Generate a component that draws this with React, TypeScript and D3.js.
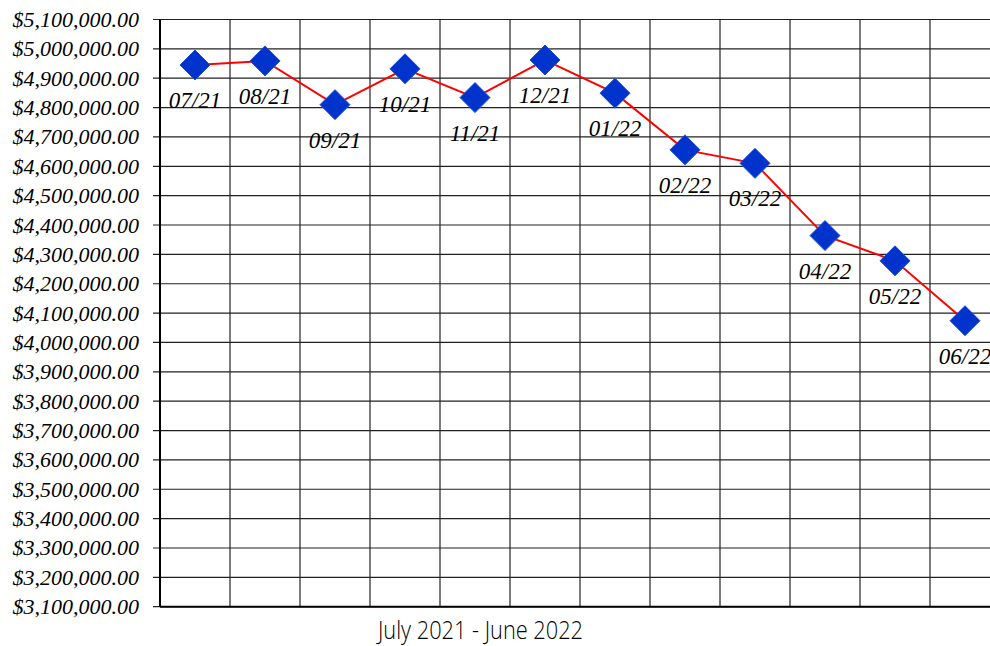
import React, { useEffect, useRef } from 'react';
import * as d3 from 'd3';

const months: string[] = ['07/21', '08/21', '09/21', '10/21', '11/21', '12/21', '01/22', '02/22', '03/22', '04/22', '05/22', '06/22'];
const values: number[] = [4945000, 4959000, 4810000, 4932000, 4834000, 4962000, 4849000, 4656000, 4610000, 4364000, 4278000, 4074000];
const yTicks: number[] = d3.range(3100000, 5100001, 100000);
const axisTitle = 'July 2021 - June 2022';

const width = 990;
const height = 646;
const margin = { top: 19.5, right: -10, bottom: 39.3, left: 160 };

export default function App() {
  const ref = useRef<SVGSVGElement>(null);

  useEffect(() => {
    draw();
  }, []);

  function draw() {
    const svg = d3.select(ref.current);
    svg.selectAll('*').remove();

    const x = d3.scaleBand<string>()
      .domain(months)
      .range([margin.left, width - margin.right]);

    const y = d3.scaleLinear()
      .domain([3100000, 5100000])
      .range([height - margin.bottom, margin.top]);

    const fmt = (d: number) => '$' + d3.format(',.2f')(d);

    // horizontal grid
    svg.append('g')
      .selectAll('line')
      .data(yTicks)
      .enter()
      .append('line')
      .attr('x1', margin.left - 7)
      .attr('x2', width)
      .attr('y1', (d) => y(d))
      .attr('y2', (d) => y(d))
      .attr('stroke', '#222')
      .attr('stroke-width', 1.2);

    // vertical grid
    svg.append('g')
      .selectAll('line')
      .data(months.slice(1))
      .enter()
      .append('line')
      .attr('x1', (d) => x(d)!)
      .attr('x2', (d) => x(d)!)
      .attr('y1', y(5100000))
      .attr('y2', y(3100000))
      .attr('stroke', '#222')
      .attr('stroke-width', 1.2);

    // axes lines
    svg.append('line')
      .attr('x1', margin.left)
      .attr('x2', margin.left)
      .attr('y1', y(5100000))
      .attr('y2', y(3100000))
      .attr('stroke', '#000')
      .attr('stroke-width', 2);
    svg.append('line')
      .attr('x1', margin.left)
      .attr('x2', width)
      .attr('y1', y(3100000))
      .attr('y2', y(3100000))
      .attr('stroke', '#000')
      .attr('stroke-width', 2);

    // y labels
    svg.append('g')
      .selectAll('text')
      .data(yTicks)
      .enter()
      .append('text')
      .attr('x', 139)
      .attr('y', (d) => y(d) + 7.5)
      .attr('text-anchor', 'end')
      .style('font-family', '"Liberation Serif", "Times New Roman", serif')
      .style('font-style', 'italic')
      .style('font-size', '22px')
      .attr('fill', '#000')
      .text((d) => fmt(d));

    const cx = (i: number) => x(months[i])! + x.bandwidth() / 2;

    // line
    const line = d3.line<number>()
      .x((d, i) => cx(i))
      .y((d) => y(d));

    svg.append('path')
      .datum(values)
      .attr('d', line)
      .attr('fill', 'none')
      .attr('stroke', '#ff0000')
      .attr('stroke-width', 2);

    // markers
    const r = 15;
    svg.append('g')
      .selectAll('path')
      .data(values)
      .enter()
      .append('path')
      .attr('d', (d, i) => {
        const px = cx(i);
        const py = y(d);
        return `M${px},${py - r}L${px + r},${py}L${px},${py + r}L${px - r},${py}Z`;
      })
      .attr('fill', '#0033cc')
      .attr('stroke', '#1f4fd8')
      .attr('stroke-width', 1);

    // point labels
    svg.append('g')
      .selectAll('text')
      .data(values)
      .enter()
      .append('text')
      .attr('x', (d, i) => cx(i))
      .attr('y', (d) => y(d) + 43)
      .attr('text-anchor', 'middle')
      .style('font-family', '"Liberation Serif", "Times New Roman", serif')
      .style('font-style', 'italic')
      .style('font-size', '23px')
      .attr('fill', '#000')
      .text((d, i) => months[i]);

    // x title
    svg.append('text')
      .attr('x', 378)
      .attr('y', 639)
      .attr('textLength', 205)
      .attr('lengthAdjust', 'spacingAndGlyphs')
      .style('font-family', '"Open Sans", sans-serif')
      .style('font-weight', 300)
      .style('font-size', '26px')
      .attr('fill', '#000')
      .text(axisTitle);
  }

  return (
    <svg
      ref={ref}
      width={width}
      height={height}
      style={{ position: 'absolute', left: 0, top: 0, background: '#fff' }}
    />
  );
}
